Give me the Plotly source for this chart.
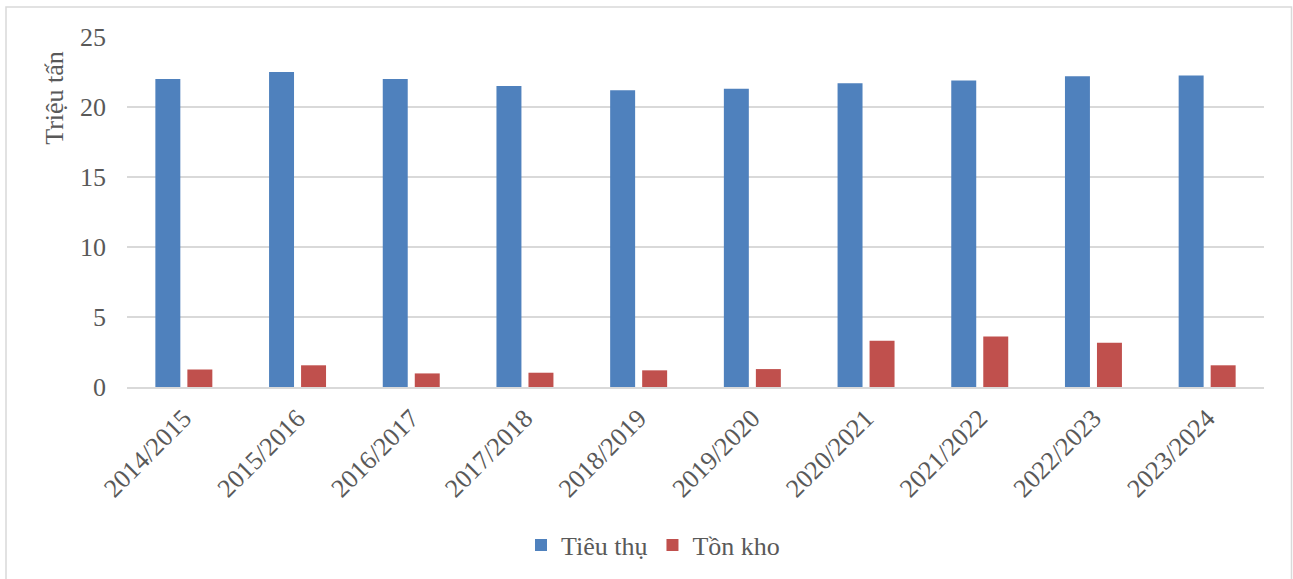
import plotly.graph_objects as go

seasons = ["2014/2015", "2015/2016", "2016/2017", "2017/2018", "2018/2019",
           "2019/2020", "2020/2021", "2021/2022", "2022/2023", "2023/2024"]
tieu_thu = [22.0, 22.5, 22.0, 21.5, 21.2, 21.3, 21.7, 21.9, 22.2, 22.25]
ton_kho = [1.25, 1.55, 0.97, 1.02, 1.19, 1.28, 3.30, 3.61, 3.16, 1.55]
y_ticks = [0, 5, 10, 15, 20, 25]

FONT = "Liberation Serif, Times New Roman, serif"
TXT = "#595959"
GRID = "#d9d9d9"
FS = 26

# layout geometry (pixels)
W, H = 1293, 579
ML, MR, MT, MB = 127, 29, 37, 191
PW, PH = W - ML - MR, H - MT - MB


def px_to_paper_x(px):
    return (px - ML) / PW


def px_to_paper_y(py):
    return (H - MB - py) / PH


fig = go.Figure()
fig.add_trace(go.Bar(name="Tiêu thụ", x=seasons, y=tieu_thu,
                     marker=dict(color="#4F81BD", line=dict(width=0))))
fig.add_trace(go.Bar(name="Tồn kho", x=seasons, y=ton_kho,
                     marker=dict(color="#C0504D", line=dict(width=0))))

fig.update_layout(
    width=W, height=H,
    margin=dict(l=ML, r=MR, t=MT, b=MB, pad=0),
    paper_bgcolor="white", plot_bgcolor="white",
    barmode="group", bargap=0.437, bargroupgap=0.22,
    font=dict(family=FONT, size=FS, color=TXT),
    showlegend=True,
    legend=dict(orientation="h", x=px_to_paper_x(653), xanchor="center",
                y=px_to_paper_y(545), yanchor="middle",
                font=dict(family=FONT, size=FS, color=TXT),
                bgcolor="rgba(0,0,0,0)", traceorder="normal"),
    xaxis=dict(tickangle=-45, tickfont=dict(family=FONT, size=FS, color=TXT),
               showgrid=False, showline=True, linecolor=GRID, linewidth=1.5,
               ticks="", ticklabelstandoff=4, fixedrange=True),
    yaxis=dict(range=[0, 25], tickvals=y_ticks, showgrid=True, gridcolor=GRID,
               gridwidth=1.5, zeroline=False, showline=False, ticks="",
               ticklabelstandoff=20,
               tickfont=dict(family=FONT, size=FS, color=TXT)),
    annotations=[dict(text="Triệu tấn", textangle=-90, showarrow=False,
                      xref="paper", yref="paper",
                      x=px_to_paper_x(55), y=px_to_paper_y(98),
                      xanchor="center", yanchor="middle",
                      font=dict(family=FONT, size=FS, color=TXT))],
    shapes=[dict(type="rect", xref="paper", yref="paper",
                 x0=px_to_paper_x(6), x1=px_to_paper_x(1291.5),
                 y0=px_to_paper_y(590), y1=px_to_paper_y(7),
                 line=dict(color=GRID, width=1.5), fillcolor="rgba(0,0,0,0)",
                 layer="below")],
)

fig.write_html("out.html")
